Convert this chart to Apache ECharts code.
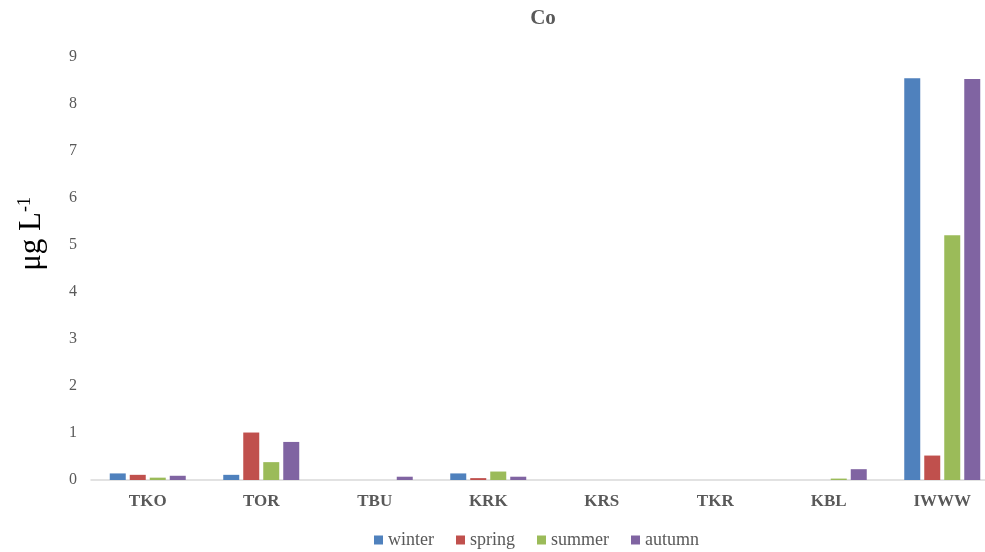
<!DOCTYPE html>
<html>
<head>
<meta charset="utf-8">
<script src="https://cdn.jsdelivr.net/npm/echarts@6/dist/echarts.min.js"></script>
<style>
html, body { margin: 0; padding: 0; background: #fff; }
#chart { width: 985px; height: 552px; }
</style>
</head>
<body>
<div id="chart"></div>
<script>
// sites along the x axis
var sites = ['TKO', 'TOR', 'TBU', 'KRK', 'KRS', 'TKR', 'KBL', 'IWWW'];
// Co concentration per season (µg/L)
var winter = [0.14, 0.11, 0, 0.14, 0, 0, 0, 8.55];
var spring = [0.11, 1.01, 0, 0.04, 0, 0, 0, 0.52];
var summer = [0.05, 0.38, 0, 0.18, 0, 0, 0.03, 5.21];
var autumn = [0.09, 0.81, 0.07, 0.07, 0, 0, 0.23, 8.53];
var yTicks = [0, 1, 2, 3, 4, 5, 6, 7, 8, 9];

var serif = '"Liberation Serif", "DejaVu Serif", serif';
var colors = ['#4F81BD', '#C0504D', '#9BBB59', '#8064A2'];

function bar(name, data) {
    return {
        name: name,
        type: 'bar',
        data: data,
        barWidth: 16,
        barGap: '25%'
    };
}

var myChart = echarts.init(document.getElementById('chart'));
myChart.setOption({
    color: colors,
    animation: false,
    title: {
        text: 'Co',
        left: 538,
        textAlign: 'center',
        top: 3,
        textStyle: { fontFamily: serif, fontWeight: 'bold', fontSize: 21, color: '#595959' }
    },
    legend: {
        bottom: -2,
        left: 369,
        itemWidth: 9,
        itemHeight: 9,
        itemGap: 22,
        icon: 'rect',
        textStyle: { fontFamily: serif, fontSize: 18, color: '#595959' },
        data: ['winter', 'spring', 'summer', 'autumn']
    },
    // the axis runs a bit past the right edge of the picture
    grid: { left: 91, width: 908, top: 57, height: 423, outerBoundsMode: 'none', containLabel: false },
    xAxis: {
        type: 'category',
        data: sites,
        axisLine: { lineStyle: { color: '#d9d9d9', width: 1.5 } },
        axisTick: { show: false },
        axisLabel: { fontFamily: serif, fontWeight: 'bold', fontSize: 17, color: '#595959', margin: 13 }
    },
    yAxis: {
        type: 'value',
        min: yTicks[0],
        max: yTicks[yTicks.length - 1],
        interval: 1,
        splitLine: { show: false },
        axisLine: { show: false },
        axisTick: { show: false },
        axisLabel: { fontFamily: serif, fontSize: 16, color: '#595959', margin: 14 }
    },
    graphic: [{
        type: 'text',
        left: 16,
        top: 197,
        rotation: Math.PI / 2,
        style: {
            text: '{a|μg L}{s|-1}',
            rich: {
                a: { fontFamily: serif, fontSize: 31, fill: '#000', verticalAlign: 'bottom' },
                s: { fontFamily: serif, fontSize: 18, fill: '#000', verticalAlign: 'top', padding: [0, 0, 13, 0] }
            }
        }
    }],
    series: [
        bar('winter', winter),
        bar('spring', spring),
        bar('summer', summer),
        bar('autumn', autumn)
    ]
});
</script>
</body>
</html>
